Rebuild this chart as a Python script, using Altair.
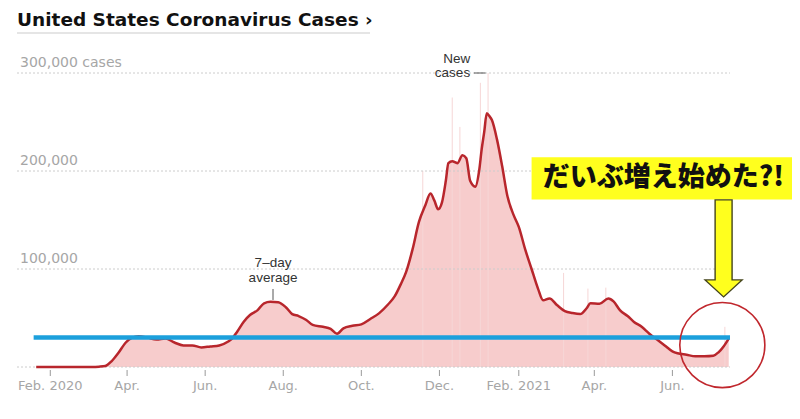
import altair as alt
import pandas as pd

# ---------------- data ----------------
avg_dates = [
    "2020-01-21", "2020-02-15", "2020-03-05", "2020-03-10", "2020-03-15", "2020-03-20", "2020-03-25", "2020-03-31",
    "2020-04-05", "2020-04-10", "2020-04-17", "2020-04-24", "2020-05-01", "2020-05-08", "2020-05-15", "2020-05-22",
    "2020-05-29", "2020-06-05", "2020-06-12", "2020-06-19", "2020-06-22", "2020-06-26", "2020-07-01", "2020-07-06",
    "2020-07-12", "2020-07-17", "2020-07-22", "2020-07-28", "2020-08-03", "2020-08-08", "2020-08-13", "2020-08-19",
    "2020-08-24", "2020-09-01", "2020-09-07", "2020-09-12", "2020-09-17", "2020-09-24", "2020-10-01", "2020-10-08",
    "2020-10-15", "2020-10-22", "2020-10-27", "2020-11-01", "2020-11-05", "2020-11-10", "2020-11-15", "2020-11-20",
    "2020-11-24", "2020-11-27", "2020-11-30", "2020-12-03", "2020-12-06", "2020-12-08", "2020-12-11", "2020-12-15",
    "2020-12-19", "2020-12-22", "2020-12-25", "2020-12-29", "2021-01-01", "2021-01-03", "2021-01-05", "2021-01-07",
    "2021-01-09", "2021-01-11", "2021-01-15", "2021-01-19", "2021-01-23", "2021-01-28", "2021-02-01", "2021-02-06",
    "2021-02-11", "2021-02-16", "2021-02-20", "2021-02-25", "2021-03-03", "2021-03-09", "2021-03-15", "2021-03-21",
    "2021-03-26", "2021-03-29", "2021-04-05", "2021-04-12", "2021-04-16", "2021-04-21", "2021-04-27", "2021-05-02",
    "2021-05-08", "2021-05-14", "2021-05-20", "2021-05-26", "2021-06-01", "2021-06-05", "2021-06-12", "2021-06-19",
    "2021-06-26", "2021-07-03", "2021-07-07", "2021-07-11", "2021-07-15",
]
avg_values = [
    0, 0, 0, 300, 1000, 6000, 14000, 25000,
    30000, 31500, 30000, 28000, 29000, 25000, 22000, 22000,
    20000, 21000, 22000, 26000, 29000, 36000, 46000, 53000,
    58000, 65000, 66500, 66000, 61000, 54000, 52000, 48000,
    43000, 41000, 39000, 34000, 39500, 42000, 43500, 49000,
    55000, 64000, 72000, 85000, 97000, 120000, 148000, 165000,
    177000, 170000, 161000, 168000, 190000, 208000, 210000, 208000,
    216000, 213000, 190000, 184000, 200000, 222000, 240000, 259000,
    256000, 252000, 232000, 205000, 175000, 155000, 143000, 120000,
    100000, 80000, 68000, 70000, 63000, 57000, 55000, 54000,
    60000, 65000, 64500, 70000, 67000, 58000, 52000, 46000,
    41000, 34000, 28000, 22000, 16000, 14000, 12500, 11000,
    11000, 11500, 15000, 21000, 29000,
]

# a few visible daily spikes (new cases) poking out of the bars
spike_dates = ["2020-11-18", "2020-12-11", "2020-12-17", "2021-01-02", "2021-01-08",
               "2021-03-08", "2021-03-27", "2021-04-10", "2021-07-12"]
spike_values = [200000, 275000, 245000, 290000, 300000, 96000, 80000, 81000, 41000]

y_tick_values = [0, 100000, 200000, 300000]
y_tick_labels = ["", "100,000", "200,000", "300,000 cases"]
x_tick_dates = ["2020-02-01", "2020-04-01", "2020-06-01", "2020-08-01", "2020-10-01",
                "2020-12-01", "2021-02-01", "2021-04-01", "2021-06-01"]
x_tick_labels = ["Feb. 2020", "Apr.", "Jun.", "Aug.", "Oct.", "Dec.", "Feb. 2021", "Apr.", "Jun."]
x_domain = ["2020-01-06", "2021-07-16"]

threshold_dates = ["2020-01-19", "2021-07-16"]
threshold_value = 30000

title_text = "United States Coronavirus Cases \u203a"
callout_text = "だいぶ増え始めた?!"
callout_x = ["2021-02-11", "2021-09-06"]
callout_y = [171000, 214000]
callout_text_pos = ["2021-05-25", 193000]
arrow_pos = ["2021-07-11", 121000]
circle_pos = ["2021-07-10", 22400]

avg_label_lines = ["7\u2013day", "average"]
avg_label_date = "2020-07-24"
avg_label_values = [102000, 87000]
avg_tick_values = [79600, 68400]

new_label_lines = ["New", "cases"]
new_label_date = "2020-12-25"
new_label_values = [310500, 296200]
new_dash_dates = ["2020-12-28", "2021-01-06"]
new_dash_value = 300000

# ---------------- helpers ----------------
W, H = 713, 294


def dt(s):
    y, m, d = map(int, s.split("-"))
    return alt.DateTime(year=y, month=m, date=d, utc=True)


xscale = alt.Scale(type="utc", domain=[dt(x_domain[0]), dt(x_domain[1])], nice=False)
yscale = alt.Scale(domain=[0, 300000], nice=False, zero=True)


def X(field="date"):
    return alt.X(f"{field}:T", scale=xscale, axis=None)


def Y(field="value"):
    return alt.Y(f"{field}:Q", scale=yscale, axis=None)


avg_df = pd.DataFrame({"date": avg_dates, "value": avg_values})
spike_df = pd.DataFrame({"date": spike_dates, "value": spike_values})
ytick_df = pd.DataFrame({"value": y_tick_values, "t": y_tick_labels})
xtick_df = pd.DataFrame({"date": x_tick_dates, "t": x_tick_labels})

grid = alt.Chart(ytick_df).mark_rule(color="#cccccc", strokeWidth=1, strokeDash=[2, 2]).encode(
    x=alt.value(0), x2=alt.value(W), y=Y()
)
ylabels = alt.Chart(ytick_df).mark_text(
    align="left", baseline="alphabetic", dx=0, dy=-6, fontSize=14,
    font="DejaVu Sans", color="#a6a6a6"
).encode(x=alt.value(3), y=Y(), text="t:N")
xticks = alt.Chart(xtick_df).mark_rule(color="#9a9a9a", strokeWidth=1).encode(
    x=X(), y=alt.value(H + 3), y2=alt.value(H + 9)
)
xlabels = alt.Chart(xtick_df).mark_text(
    align="center", baseline="alphabetic", fontSize=13, font="DejaVu Sans", color="#a6a6a6"
).encode(x=X(), y=alt.value(H + 23), text="t:N")

area = alt.Chart(avg_df).mark_area(color="#f7cccc", interpolate="monotone").encode(x=X(), y=Y())
spikes = alt.Chart(spike_df).mark_rule(color="#f6d6d6", strokeWidth=1).encode(
    x=X(), y=Y(), y2=alt.datum(0)
)
line = alt.Chart(avg_df).mark_line(color="#b8262c", strokeWidth=2.5, interpolate="monotone").encode(
    x=X(), y=Y()
)
blue = alt.Chart(pd.DataFrame({"date": threshold_dates, "value": [threshold_value] * 2})).mark_line(
    color="#1ca0dc", strokeWidth=4.5, strokeCap="butt"
).encode(x=X(), y=Y())

circle = alt.Chart(pd.DataFrame({"date": [circle_pos[0]], "value": [circle_pos[1]]})).mark_point(
    shape="circle", filled=False, size=7238, stroke="#c0272d", strokeWidth=1.6, opacity=1
).encode(x=X(), y=Y())

callout_box = alt.Chart(pd.DataFrame({"x1": [callout_x[0]], "x2": [callout_x[1]],
                                      "y1": [callout_y[0]], "y2": [callout_y[1]]})).mark_rect(
    color="#ffff1e"
).encode(x=X("x1"), x2="x2:T", y=Y("y1"), y2="y2:Q")

callout = alt.Chart(pd.DataFrame({"date": [callout_text_pos[0]], "value": [callout_text_pos[1]],
                                  "t": [callout_text]})).mark_text(
    font="Noto Sans CJK JP", fontSize=27, fontWeight=900, color="#111111",
    align="center", baseline="middle"
).encode(x=X(), y=Y(), text="t:N")

arrow_path = ("M-0.175,-1 L0.175,-1 L0.175,0.649 L0.381,0.649 L0,1 "
              "L-0.381,0.649 L-0.175,0.649 Z")
arrow = alt.Chart(pd.DataFrame({"date": [arrow_pos[0]], "value": [arrow_pos[1]]})).mark_point(
    shape=arrow_path, filled=True, fill="#ffff1e", stroke="#45451c", strokeWidth=1.4,
    size=9409, opacity=1
).encode(x=X(), y=Y())

avg_label = alt.Chart(pd.DataFrame({"date": [avg_label_date] * 2, "value": avg_label_values,
                                    "t": avg_label_lines})).mark_text(
    font="Liberation Sans", fontSize=13.5, color="#333333", align="center", baseline="alphabetic"
).encode(x=X(), y=Y(), text="t:N")
avg_tick = alt.Chart(pd.DataFrame({"date": [avg_label_date], "v1": [avg_tick_values[0]],
                                   "v2": [avg_tick_values[1]]})).mark_rule(
    color="#555555", strokeWidth=1
).encode(x=X(), y=Y("v1"), y2="v2:Q")

new_label = alt.Chart(pd.DataFrame({"date": [new_label_date] * 2, "value": new_label_values,
                                    "t": new_label_lines})).mark_text(
    font="Liberation Sans", fontSize=13.5, color="#333333", align="right", baseline="alphabetic"
).encode(x=X(), y=Y(), text="t:N")
new_dash = alt.Chart(pd.DataFrame({"d1": [new_dash_dates[0]], "d2": [new_dash_dates[1]],
                                   "value": [new_dash_value]})).mark_rule(
    color="#555555", strokeWidth=1
).encode(x=X("d1"), x2="d2:T", y=Y())

title = alt.Chart(pd.DataFrame({"t": [title_text]})).mark_text(
    align="left", baseline="alphabetic", fontSize=18.5, fontWeight="bold",
    font="DejaVu Sans", color="#111111"
).encode(x=alt.value(0), y=alt.value(-47), text="t:N")
title_rule = alt.Chart(pd.DataFrame({"t": [title_text]})).mark_rule(
    color="#dcdcdc", strokeWidth=1.5
).encode(x=alt.value(0), x2=alt.value(353), y=alt.value(-40))

chart = alt.layer(
    area, spikes, grid, ylabels, xticks, xlabels, line, blue, circle, callout_box, callout, arrow,
    avg_label, avg_tick, new_label, new_dash, title, title_rule
).properties(
    width=W, height=H,
    padding={"left": 9, "top": 65, "right": 62, "bottom": 36},
    autosize=alt.AutoSizeParams(type="none"),
    background="white",
).configure_view(stroke=None)

chart.save("out.html", embed_options={"renderer": "svg", "actions": False})
